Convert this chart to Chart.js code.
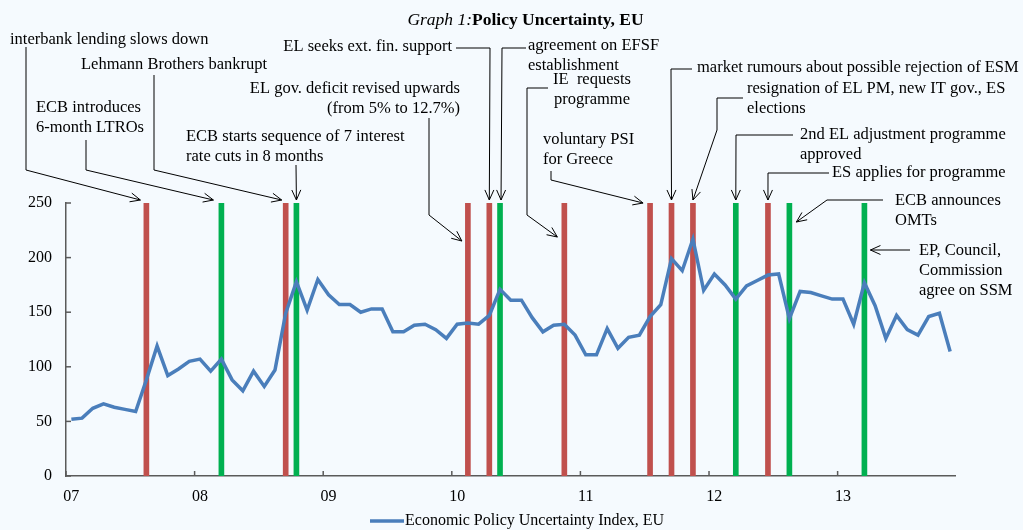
<!DOCTYPE html>
<html>
<head>
<meta charset="utf-8">
<script src="https://cdn.jsdelivr.net/npm/chart.js@4.4.1/dist/chart.umd.min.js"></script>
<style>
html, body { margin: 0; padding: 0; background: #F5FAFE; }
#wrap { width: 1023px; height: 530px; position: relative; }
</style>
</head>
<body>
<div id="wrap"><canvas id="grafico"></canvas></div>
<script>
// data
const years = ['07', '08', '09', '10', '11', '12', '13'];
const lastMonth = '2013-11';
const uncertainty = [
  52, 53, 62, 66, 63, 61, 59, 88, 119, 92, 98, 105,
  107, 96, 107, 88, 78, 96, 82, 97, 149, 178, 152, 180,
  166, 157, 157, 150, 153, 153, 132, 132, 138, 139, 134, 126,
  139, 140, 139, 147, 171, 161, 161, 145, 132, 138, 139, 129,
  111, 111, 135, 117, 127, 129, 146, 157, 199, 188, 217, 170,
  185, 175, 162, 174, 179, 184, 185, 144, 169, 168, 165, 162,
  162, 139, 177, 156, 126, 147, 134, 129, 146, 149, 114
];
const eventMonths = ['2007-08', '2008-03', '2008-09', '2008-10', '2010-02', '2010-04', '2010-05', '2010-11',
  '2011-07', '2011-09', '2011-11', '2012-03', '2012-06', '2012-08', '2013-03'];
const eventKinds = ['bad', 'good', 'bad', 'good', 'bad', 'bad', 'good', 'bad',
  'bad', 'bad', 'bad', 'good', 'bad', 'good', 'good'];
const yTicks = [0, 50, 100, 150, 200, 250];
const seriesName = 'Economic Policy Uncertainty Index, EU';

const RED = '#C0504D';
const GREEN = '#00B050';
const BLUE = '#4A7EBB';
const AXIS = '#5A5A5A';
const SERIF = '"Liberation Serif", "Times New Roman", serif';

const months = [];
years.forEach(y => {
  for (let m = 1; m <= 12; m++) months.push('20' + y + '-' + String(m).padStart(2, '0'));
});
months.splice(months.indexOf(lastMonth) + 1);

const barTop = yTicks[yTicks.length - 1];
const eventBars = months.map(m => eventMonths.includes(m) ? barTop : null);
const eventCols = months.map(m => {
  const k = eventMonths.indexOf(m);
  if (k < 0) return 'rgba(0,0,0,0)';
  return eventKinds[k] === 'bad' ? RED : GREEN;
});

// annotation layout (text anchor, leader path, arrow tip offset from bar top)
const notes = [
  { ev: 0, lines: ['interbank lending slows down'], x: 10, y: 40, path: [[26, 47], [26, 170]], tip: [-6, -3] },
  { ev: 1, lines: ['ECB introduces', '6-month LTROs'], x: 36, y: 108, path: [[86, 140], [86, 170]], tip: [-8, -3] },
  { ev: 2, lines: ['Lehmann Brothers bankrupt'], x: 81, y: 65, path: [[154, 75], [154, 170]], tip: [-4, -3] },
  { ev: 3, lines: ['ECB starts sequence of 7 interest', 'rate cuts in 8 months'], x: 186, y: 137, path: [[296, 165]], tip: [0, -3] },
  { ev: 4, lines: ['EL gov. deficit revised upwards', '(from 5% to 12.7%)'], align: 'right', x: 460, y: 89, path: [[429, 118], [429, 215]], tip: [-6, 38] },
  { ev: 5, lines: ['EL seeks ext. fin. support'], align: 'right', x: 452, y: 47, path: [[456, 48], [490, 48]], tip: [0, -3] },
  { ev: 6, lines: ['agreement on EFSF', 'establishment'], x: 528, y: 46, path: [[526, 48], [502, 48]], tip: [1, -3] },
  { ev: 7, lines: ['IE  requests', 'programme'], align: 'center', x: 592, y: 80, path: [[548, 88], [527, 88], [527, 215]], tip: [-7, 34] },
  { ev: 8, lines: ['voluntary PSI', 'for Greece'], x: 543, y: 140, path: [[551, 171], [551, 180]], tip: [-7, 0] },
  { ev: 9, lines: ['market rumours about possible rejection of ESM'], x: 697, y: 68, path: [[692, 69], [671, 69]], tip: [0, -3] },
  { ev: 10, lines: ['resignation of EL PM, new IT gov., ES', 'elections'], x: 747, y: 89, path: [[743, 98], [717, 98], [717, 130]], tip: [0, -3] },
  { ev: 11, lines: ['2nd EL adjustment programme', 'approved'], x: 800, y: 135, path: [[793, 135], [736, 135]], tip: [0, -3] },
  { ev: 12, lines: ['ES applies for programme'], x: 832, y: 173, path: [[829, 173], [768, 173]], tip: [0, -3] },
  { ev: 13, lines: ['ECB announces', 'OMTs'], x: 895, y: 201, path: [[883, 200], [827, 200]], tip: [7, 19] },
  { ev: 14, lines: ['EP, Council,', 'Commission', 'agree on SSM'], x: 919, y: 251, path: [[910, 250]], tip: [6, 47] }
];

function seg(ctx, x1, y1, x2, y2) {
  ctx.beginPath();
  ctx.moveTo(x1, y1);
  ctx.lineTo(x2, y2);
  ctx.stroke();
}

const decor = {
  id: 'decor',
  beforeDraw(chart) {
    const ctx = chart.ctx;
    ctx.save();
    ctx.fillStyle = '#F5FAFE';
    ctx.fillRect(0, 0, chart.width, chart.height);
    ctx.restore();
  },
  afterDraw(chart) {
    const { ctx, chartArea: a, scales: { x, y } } = chart;
    ctx.save();

    // inside tick marks
    ctx.strokeStyle = AXIS;
    ctx.lineWidth = 1.5;
    yTicks.forEach(v => {
      const py = y.getPixelForValue(v);
      seg(ctx, a.left, py, a.left + 5, py);
    });
    const half = (x.getPixelForValue(1) - x.getPixelForValue(0)) / 2;
    months.forEach((m, i) => {
      if (m.endsWith('-01')) {
        const px = x.getPixelForValue(i) - half;
        seg(ctx, px, a.bottom, px, a.bottom - 5);
      }
    });

    // title
    ctx.fillStyle = '#000';
    ctx.textBaseline = 'middle';
    ctx.textAlign = 'left';
    const t1 = 'Graph 1:', t2 = 'Policy Uncertainty, EU';
    ctx.font = 'italic 17.5px ' + SERIF;
    const w1 = ctx.measureText(t1).width;
    ctx.font = 'bold 17.5px ' + SERIF;
    const w2 = ctx.measureText(t2).width;
    const tx = 525.5 - (w1 + w2) / 2;
    ctx.font = 'italic 17.5px ' + SERIF;
    ctx.fillText(t1, tx, 20);
    ctx.font = 'bold 17.5px ' + SERIF;
    ctx.fillText(t2, tx + w1, 20);

    // legend
    ctx.strokeStyle = BLUE;
    ctx.lineWidth = 3.5;
    seg(ctx, 370, 521, 404, 521);
    ctx.font = '16px ' + SERIF;
    ctx.fillText(seriesName, 405, 521);

    // annotations
    ctx.font = '16.5px ' + SERIF;
    ctx.strokeStyle = '#000';
    ctx.lineWidth = 1;
    notes.forEach(n => {
      ctx.textAlign = n.align || 'left';
      n.lines.forEach((s, k) => ctx.fillText(s, n.x, n.y + k * 20));
      const idx = months.indexOf(eventMonths[n.ev]);
      const tipX = x.getPixelForValue(idx) + n.tip[0];
      const tipY = y.getPixelForValue(barTop) + n.tip[1];
      const pts = n.path.concat([[tipX, tipY]]);
      ctx.beginPath();
      ctx.moveTo(pts[0][0], pts[0][1]);
      pts.slice(1).forEach(p => ctx.lineTo(p[0], p[1]));
      ctx.stroke();
      const prev = pts[pts.length - 2];
      const ang = Math.atan2(tipY - prev[1], tipX - prev[0]);
      const len = 11, spread = 0.42;
      seg(ctx, tipX, tipY, tipX - len * Math.cos(ang - spread), tipY - len * Math.sin(ang - spread));
      seg(ctx, tipX, tipY, tipX - len * Math.cos(ang + spread), tipY - len * Math.sin(ang + spread));
    });
    ctx.restore();
  }
};

const ctx = document.getElementById('grafico');

let grafico = new Chart(ctx, {
  data: {
    labels: months,
    datasets: [{
      type: 'line',
      label: seriesName,
      data: uncertainty,
      borderColor: BLUE,
      borderWidth: 3.5,
      pointRadius: 0,
      tension: 0,
      order: 0
    }, {
      type: 'bar',
      label: 'events',
      data: eventBars,
      backgroundColor: eventCols,
      barThickness: 5,
      order: 1
    }]
  },
  options: {
    responsive: true,
    maintainAspectRatio: false,
    animation: false,
    layout: { padding: { left: 0, right: 67.5, top: 203, bottom: 0 } },
    plugins: {
      legend: { display: false },
      title: { display: false },
      tooltip: { enabled: false }
    },
    scales: {
      x: {
        offset: true,
        grid: { display: false, offset: true },
        border: { display: true, color: AXIS, width: 1.5 },
        ticks: {
          autoSkip: false,
          maxRotation: 0,
          padding: 3,
          color: '#000',
          font: { family: SERIF, size: 16 },
          callback: (v, i) => months[i].endsWith('-01') ? months[i].slice(2, 4) : ''
        },
        afterFit: s => { s.height = 54; }
      },
      y: {
        min: 0,
        max: barTop,
        grid: { display: false },
        border: { display: true, color: AXIS, width: 1.5 },
        ticks: {
          stepSize: 50,
          padding: 6,
          color: '#000',
          font: { family: SERIF, size: 16 }
        },
        afterFit: s => { s.width = 66; }
      }
    }
  },
  plugins: [decor]
});
</script>
</body>
</html>
